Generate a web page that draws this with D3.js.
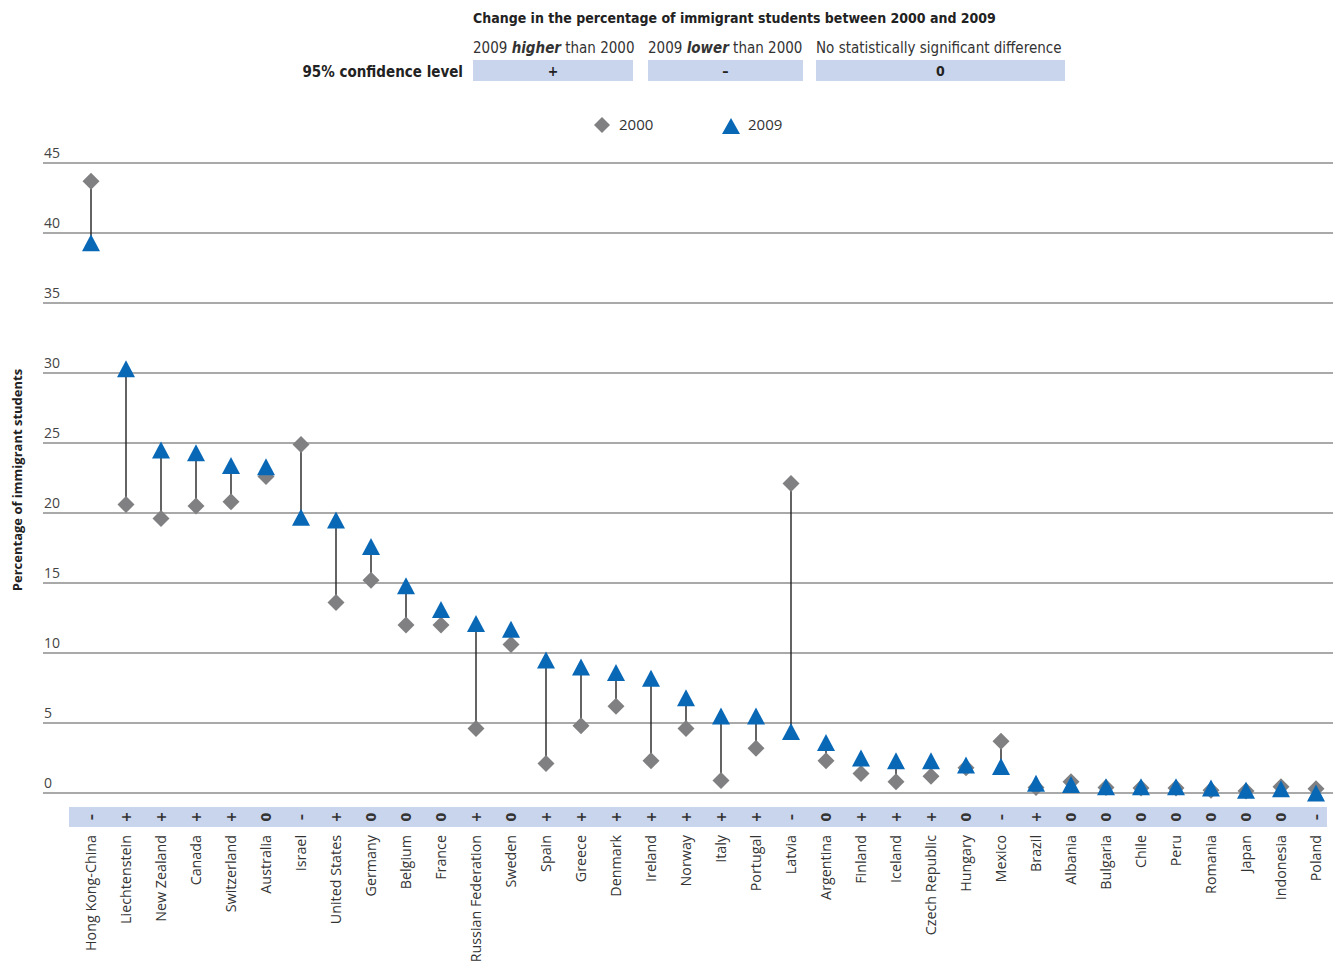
<!DOCTYPE html>
<html>
<head>
<meta charset="utf-8">
<script src="https://cdn.jsdelivr.net/npm/d3@7"></script>
<style>
  html, body { margin: 0; padding: 0; background: #fff; }
  svg { display: block; }
  .cond { font-family: "Liberation Sans Narrow", "DejaVu Sans Condensed", "Open Sans", sans-serif; }
  .body { font-family: "Open Sans", "Noto Sans", sans-serif; }
</style>
</head>
<body>
<svg id="chart" width="1338" height="962"></svg>
<script>
const countries = ["Hong Kong-China","Liechtenstein","New Zealand","Canada","Switzerland","Australia","Israel","United States","Germany","Belgium","France","Russian Federation","Sweden","Spain","Greece","Denmark","Ireland","Norway","Italy","Portugal","Latvia","Argentina","Finland","Iceland","Czech Republic","Hungary","Mexico","Brazil","Albania","Bulgaria","Chile","Peru","Romania","Japan","Indonesia","Poland"];
const values2000 = [43.7,20.6,19.6,20.5,20.8,22.6,24.9,13.6,15.2,12.0,12.0,4.6,10.6,2.1,4.8,6.2,2.3,4.6,0.9,3.2,22.1,2.3,1.4,0.8,1.2,1.8,3.7,0.4,0.8,0.4,0.35,0.35,0.2,0.15,0.45,0.3];
const values2009 = [39.3,30.3,24.5,24.3,23.4,23.3,19.7,19.5,17.6,14.8,13.1,12.1,11.7,9.5,9.0,8.6,8.2,6.8,5.5,5.5,4.4,3.6,2.5,2.3,2.3,2.0,1.9,0.7,0.6,0.45,0.45,0.45,0.35,0.2,0.3,0.0];
const signs = ["–","+","+","+","+","0","–","+","0","0","0","+","0","+","+","+","+","+","+","+","–","0","+","+","+","0","–","+","0","0","0","0","0","0","0","–"];
const yTicks = [0,5,10,15,20,25,30,35,40,45];
const seriesNames = ["2000","2009"];
const legendHeads = ["2009 |higher| than 2000","2009 |lower| than 2000","No statistically significant difference"];
const legendSigns = ["+","–","0"];

const GREY = "#808082", BLUE = "#0868b6", BOX = "#c9d5ec";
const svg = d3.select("#chart");

const x = d3.scaleBand().domain(countries).range([73.5, 1333.5]);
const y = d3.scaleLinear().domain([0, 45]).range([793, 163]);
const cx = c => x(c) + x.bandwidth() / 2;

// marker shapes (size in px)
const diamondPath = s => { const h = s / 2; return `M0,${-h}L${h},0L0,${h}L${-h},0Z`; };
const trianglePath = (w, h) => `M0,${-h/2}L${w/2},${h/2}L${-w/2},${h/2}Z`;

// ---- header ----
svg.append("text").attr("class","cond").attr("x", 473).attr("y", 23)
  .attr("font-size", 14).attr("font-weight","bold").attr("fill","#222")
  .text("Change in the percentage of  immigrant students between 2000 and 2009");

const boxes = [[473,633],[648,803],[816,1065]];
boxes.forEach((b,i) => {
  const parts = legendHeads[i].split("|");
  const t = svg.append("text").attr("class","cond").attr("x", b[0]).attr("y", 53)
    .attr("font-size", 15).attr("fill","#333");
  parts.forEach((p,j) => {
    t.append("tspan").text(p)
      .attr("font-weight", j===1 ? "bold" : null)
      .attr("font-style", j===1 ? "italic" : null);
  });
  svg.append("rect").attr("x", b[0]).attr("y", 60).attr("width", b[1]-b[0]).attr("height", 21).attr("fill", BOX);
  svg.append("text").attr("class","cond").attr("x", (b[0]+b[1])/2).attr("y", 76)
    .attr("text-anchor","middle").attr("font-size", 14).attr("font-weight","bold").attr("fill","#222")
    .text(legendSigns[i]);
});
svg.append("text").attr("class","cond").attr("x", 463).attr("y", 77).attr("text-anchor","end")
  .attr("font-size", 15).attr("font-weight","bold").attr("fill","#222").text("95% confidence level");

// ---- series legend ----
svg.append("path").attr("d", diamondPath(16)).attr("transform","translate(602,125)").attr("fill", GREY);
svg.append("text").attr("class","body").attr("x", 619).attr("y", 130).attr("font-size", 15).attr("fill","#333").text(seriesNames[0]);
svg.append("path").attr("d", trianglePath(18, 16)).attr("transform","translate(731,126)").attr("fill", BLUE);
svg.append("text").attr("class","body").attr("x", 748).attr("y", 130).attr("font-size", 15).attr("fill","#333").text(seriesNames[1]);

// ---- grid & y labels ----
const grid = svg.append("g");
yTicks.forEach(t => {
  grid.append("line").attr("x1", 43).attr("x2", 1333).attr("y1", y(t)).attr("y2", y(t))
    .attr("stroke", "#555").attr("stroke-width", 1.2);
  grid.append("text").attr("class","body").attr("x", 44).attr("y", y(t) - 5)
    .attr("font-size", 14).attr("fill", "#444").text(t);
});
svg.append("text").attr("class","body").attr("transform","translate(22,480) rotate(-90)")
  .attr("text-anchor","middle").attr("font-size", 13).attr("font-weight","bold").attr("fill","#222")
  .text("Percentage of immigrant students");

// ---- connectors ----
svg.append("g").selectAll("line").data(countries).join("line")
  .attr("x1", cx).attr("x2", cx)
  .attr("y1", (c,i) => y(values2000[i])).attr("y2", (c,i) => y(values2009[i]))
  .attr("stroke", "#222").attr("stroke-width", 1.4);

// ---- markers ----
svg.append("g").selectAll("path").data(countries).join("path")
  .attr("d", diamondPath(17))
  .attr("transform", (c,i) => `translate(${cx(c)},${y(values2000[i])})`)
  .attr("fill", GREY);
svg.append("g").selectAll("path").data(countries).join("path")
  .attr("d", trianglePath(18, 17))
  .attr("transform", (c,i) => `translate(${cx(c)},${y(values2009[i])})`)
  .attr("fill", BLUE);

// ---- sign row ----
svg.append("rect").attr("x", x.range()[0] - 4.5).attr("y", 807).attr("width", x.range()[1] - x.range()[0] - 2)
  .attr("height", 20).attr("fill", BOX);
svg.append("g").selectAll("text").data(countries).join("text")
  .attr("class","cond")
  .attr("transform", c => `translate(${cx(c) + 5},817) rotate(-90)`)
  .attr("text-anchor","middle")
  .attr("font-size", 14).attr("font-weight","bold").attr("fill","#333")
  .text((c,i) => signs[i]);

// ---- country labels ----
svg.append("g").selectAll("text").data(countries).join("text")
  .attr("class","body")
  .attr("transform", c => `translate(${cx(c) + 5},835) rotate(-90)`)
  .attr("text-anchor","end").attr("font-size", 14.3).attr("fill","#333")
  .text(c => c);
</script>
</body>
</html>
